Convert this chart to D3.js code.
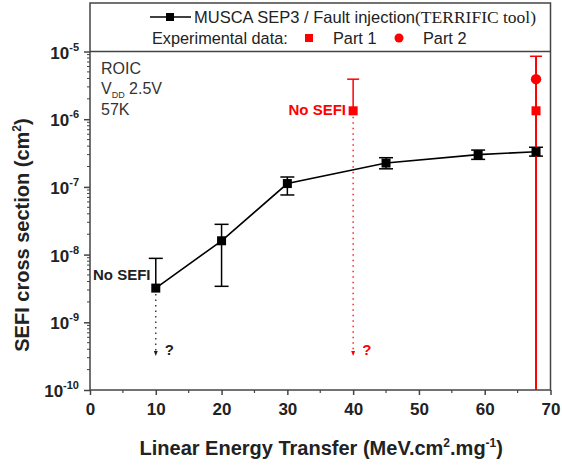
<!DOCTYPE html>
<html><head><meta charset="utf-8">
<script src="https://cdn.jsdelivr.net/npm/d3@7"></script>
<style>body{margin:0;background:#fff}svg{display:block}</style>
</head><body><svg id="c" width="562" height="466"></svg>
<script>
// Data
const simLET = [10, 20, 30, 45, 59, 67.8];
const simSigma = [3.2e-9, 1.6e-8, 1.12e-7, 2.25e-7, 3.0e-7, 3.3e-7];
const simErrHi = [8.8e-9, 2.8e-8, 1.4e-7, 2.7e-7, 3.5e-7, 3.85e-7];
const simErrLo = [null, 3.4e-9, 7.6e-8, 1.85e-7, 2.55e-7, 2.85e-7];
const part1LET = [40, 67.8];
const part1Sigma = [1.33e-6, 1.33e-6];
const part1ErrHi = [3.9e-6, null];
const part2LET = [67.8];
const part2Sigma = [3.9e-6];
const part2ErrHi = [8.5e-6];
const xTicks = [0, 10, 20, 30, 40, 50, 60, 70];
const yTickExp = [-5, -6, -7, -8, -9, -10];

const svg = d3.select("#c");
const L = 90, R = 550.5, T = 51.5, B = 390, FT = 3;
const x = d3.scaleLinear().domain([0, 70]).range([L, R]);
const y = d3.scaleLog().domain([1e-10, 1e-5]).range([B, T]);
const sans = "'Liberation Sans', Arial, sans-serif";
const serif = "'Liberation Serif', 'Times New Roman', serif";
const axCol = "#444";

// frame
svg.append("rect").attr("x", L).attr("y", FT).attr("width", R - L).attr("height", B - FT)
  .attr("fill", "none").attr("stroke", axCol).attr("stroke-width", 1.5);
svg.append("line").attr("x1", L).attr("x2", R).attr("y1", T).attr("y2", T)
  .attr("stroke", axCol).attr("stroke-width", 1.5);

// x axis
const xAx = svg.append("g").attr("transform", `translate(0,${B})`)
  .call(d3.axisBottom(x).tickValues(xTicks).tickSize(5).tickPadding(8).tickFormat(d3.format("d")));
xAx.select(".domain").remove();
xAx.selectAll("line").attr("stroke", axCol).attr("stroke-width", 1.5);
xAx.selectAll("text").attr("font-family", sans).attr("font-weight", "bold").attr("font-size", 17).attr("fill", "#222");
const xMinor = d3.range(5, 70, 10);
svg.append("g").selectAll("line").data(xMinor).join("line")
  .attr("x1", d => x(d)).attr("x2", d => x(d)).attr("y1", B).attr("y2", B + 3)
  .attr("stroke", axCol).attr("stroke-width", 1.2);

// y axis
const yAx = svg.append("g").attr("transform", `translate(${L},0)`)
  .call(d3.axisLeft(y).tickValues(yTickExp.map(e => Math.pow(10, e))).tickSize(6).tickFormat(""));
yAx.select(".domain").remove();
yAx.selectAll("line").attr("stroke", axCol).attr("stroke-width", 1.5);
const yMinor = [];
for (let e = -10; e < -5; e++) for (let m = 2; m <= 9; m++) yMinor.push(m * Math.pow(10, e));
svg.append("g").selectAll("line").data(yMinor).join("line")
  .attr("x1", L - 3).attr("x2", L).attr("y1", d => y(d)).attr("y2", d => y(d))
  .attr("stroke", axCol).attr("stroke-width", 1);
const yl = svg.append("g").selectAll("text").data(yTickExp).join("text")
  .attr("x", L - 11).attr("y", d => y(Math.pow(10, d)) + 7)
  .attr("text-anchor", "end").attr("font-family", sans).attr("font-weight", "bold")
  .attr("font-size", 17).attr("fill", "#222");
yl.append("tspan").text("10");
yl.append("tspan").attr("font-size", 11).attr("dy", -8).text(d => d);

// axis titles
const xt = svg.append("text").attr("x", (L + R) / 2 + 1).attr("y", 455).attr("text-anchor", "middle")
  .attr("font-family", sans).attr("font-weight", "bold").attr("font-size", 20).attr("fill", "#222");
xt.append("tspan").text("Linear Energy Transfer (MeV.cm");
xt.append("tspan").attr("font-size", 12).attr("dy", -8).text("2");
xt.append("tspan").attr("dy", 8).text(".mg");
xt.append("tspan").attr("font-size", 12).attr("dy", -8).text("-1");
xt.append("tspan").attr("dy", 8).text(")");
const yt = svg.append("text").attr("transform", "translate(29,235) rotate(-90)").attr("text-anchor", "middle")
  .attr("font-family", sans).attr("font-weight", "bold").attr("font-size", 20).attr("fill", "#222");
yt.append("tspan").text("SEFI cross section (cm");
yt.append("tspan").attr("font-size", 12).attr("dy", -8).text("2");
yt.append("tspan").attr("dy", 8).text(")");

// annotations
const ann = svg.append("g").attr("font-family", sans).attr("font-size", 16).attr("fill", "#333");
ann.append("text").attr("x", 101).attr("y", 74).text("ROIC");
const vdd = ann.append("text").attr("x", 101).attr("y", 94);
vdd.append("tspan").text("V");
vdd.append("tspan").attr("font-size", 9).attr("dy", 4).text("DD");
vdd.append("tspan").attr("dy", -4).text(" 2.5V");
ann.append("text").attr("x", 101).attr("y", 115).text("57K");

// simulation line
const pts = simLET.map((d, i) => [x(d), y(simSigma[i])]);
svg.append("path").attr("d", d3.line()(pts)).attr("fill", "none").attr("stroke", "#000").attr("stroke-width", 1.6);
// error bars
simLET.forEach((d, i) => {
  const lo = simErrLo[i] == null ? simSigma[i] : simErrLo[i];
  svg.append("line").attr("x1", x(d)).attr("x2", x(d)).attr("y1", y(simErrHi[i])).attr("y2", y(lo))
    .attr("stroke", "#000").attr("stroke-width", 1.5);
  const cw = 7;
  svg.append("line").attr("x1", x(d) - cw).attr("x2", x(d) + cw).attr("y1", y(simErrHi[i])).attr("y2", y(simErrHi[i]))
    .attr("stroke", "#000").attr("stroke-width", 1.5);
  if (simErrLo[i] != null)
    svg.append("line").attr("x1", x(d) - cw).attr("x2", x(d) + cw).attr("y1", y(lo)).attr("y2", y(lo))
      .attr("stroke", "#000").attr("stroke-width", 1.5);
});

// dotted arrows
function arrow(xv, yv, col) {
  svg.append("line").attr("x1", x(xv)).attr("x2", x(xv)).attr("y1", y(yv) + 6).attr("y2", y(3.3e-10) - 3)
    .attr("stroke", col).attr("stroke-width", 1.3).attr("stroke-dasharray", "1.5,4");
  const ay = y(3.3e-10);
  svg.append("path").attr("d", `M${x(xv) - 2},${ay - 4}L${x(xv) + 2},${ay - 4}L${x(xv)},${ay + 1}Z`).attr("fill", col);
  svg.append("text").attr("x", x(xv) + 9).attr("y", ay).attr("font-family", sans).attr("font-weight", "bold")
    .attr("font-size", 15).attr("fill", col).text("?");
}
arrow(10, simSigma[0], "#222");
arrow(40, part1Sigma[0], "#f00");

// red error bars
const red = "#ff0000";
svg.append("line").attr("x1", x(40)).attr("x2", x(40)).attr("y1", y(part1ErrHi[0])).attr("y2", y(part1Sigma[0]))
  .attr("stroke", red).attr("stroke-width", 1.5);
svg.append("line").attr("x1", x(40) - 6).attr("x2", x(40) + 6).attr("y1", y(part1ErrHi[0])).attr("y2", y(part1ErrHi[0]))
  .attr("stroke", red).attr("stroke-width", 1.5);
svg.append("line").attr("x1", x(part2LET[0])).attr("x2", x(part2LET[0])).attr("y1", y(part2ErrHi[0])).attr("y2", B)
  .attr("stroke", red).attr("stroke-width", 2);
svg.append("line").attr("x1", x(part2LET[0]) - 6).attr("x2", x(part2LET[0]) + 6).attr("y1", y(part2ErrHi[0])).attr("y2", y(part2ErrHi[0]))
  .attr("stroke", red).attr("stroke-width", 1.5);

// black markers
svg.append("g").selectAll("rect").data(simLET).join("rect")
  .attr("x", d => x(d) - 4.5).attr("y", (d, i) => y(simSigma[i]) - 4.5).attr("width", 9).attr("height", 9).attr("fill", "#000");
// red markers
svg.append("g").selectAll("rect").data(part1LET).join("rect")
  .attr("x", d => x(d) - 4.5).attr("y", (d, i) => y(part1Sigma[i]) - 4.5).attr("width", 9).attr("height", 9).attr("fill", red);
svg.append("g").selectAll("circle").data(part2LET).join("circle")
  .attr("cx", d => x(d)).attr("cy", (d, i) => y(part2Sigma[i])).attr("r", 5.2).attr("fill", red);

// No SEFI labels
svg.append("text").attr("x", 93).attr("y", 280).attr("font-family", sans).attr("font-weight", "bold")
  .attr("font-size", 15).attr("fill", "#222").text("No SEFI");
svg.append("text").attr("x", 346).attr("y", 115).attr("text-anchor", "end").attr("font-family", sans).attr("font-weight", "bold")
  .attr("font-size", 15).attr("fill", red).text("No SEFI");

// legend
const lg = svg.append("g");
lg.append("line").attr("x1", 150).attr("x2", 191).attr("y1", 17).attr("y2", 17).attr("stroke", "#000").attr("stroke-width", 1.6);
lg.append("rect").attr("x", 166).attr("y", 13).attr("width", 8).attr("height", 8).attr("fill", "#000");
const l1 = lg.append("text").attr("x", 194).attr("y", 23).attr("font-size", 16.5).attr("fill", "#222");
l1.append("tspan").attr("font-family", sans).text("MUSCA SEP3 / Fault injection");
l1.append("tspan").attr("font-family", serif).attr("font-size", 17.5).text("(TERRIFIC tool)");
lg.append("text").attr("x", 152).attr("y", 44).attr("font-family", sans).attr("font-size", 16.3).attr("fill", "#222").text("Experimental data:");
lg.append("rect").attr("x", 305).attr("y", 34).attr("width", 8).attr("height", 8).attr("fill", red);
lg.append("text").attr("x", 333).attr("y", 44).attr("font-family", sans).attr("font-size", 16.3).attr("fill", "#222").text("Part 1");
lg.append("circle").attr("cx", 399).attr("cy", 38).attr("r", 4.5).attr("fill", red);
lg.append("text").attr("x", 423).attr("y", 44).attr("font-family", sans).attr("font-size", 16.3).attr("fill", "#222").text("Part 2");
</script></body></html>
